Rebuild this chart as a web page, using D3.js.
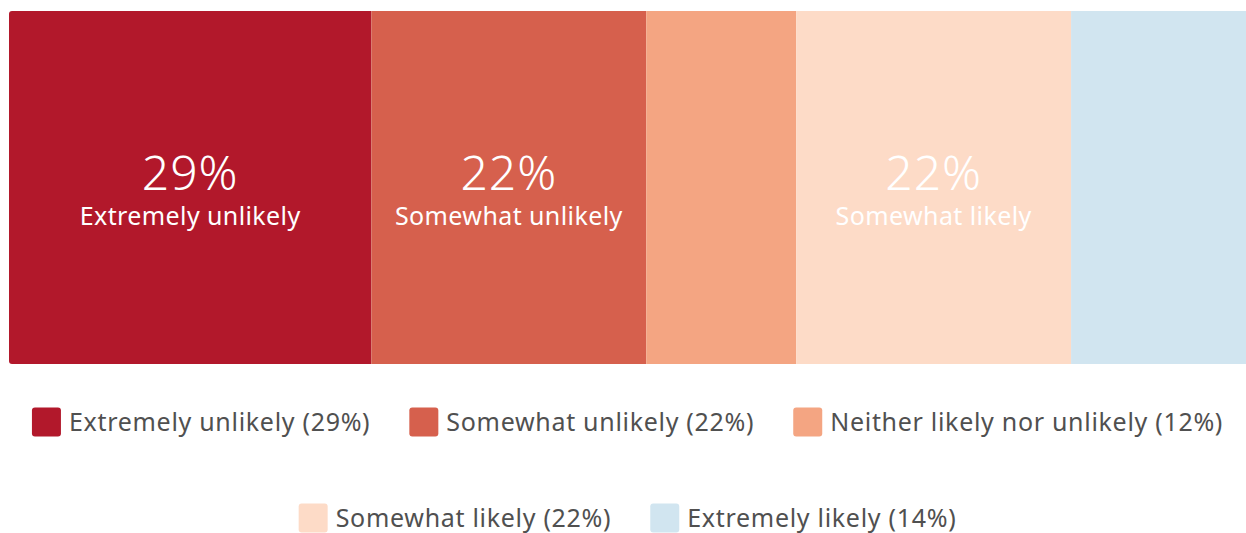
<!DOCTYPE html>
<html>
<head>
<meta charset="utf-8">
<script src="https://cdn.jsdelivr.net/npm/d3@7"></script>
<style>
  html, body { margin: 0; padding: 0; background: #fff; }
  svg { display: block; }
  text { font-family: "Noto Sans", "Open Sans", sans-serif; }
</style>
</head>
<body>
<svg id="chart" width="1246" height="533"></svg>
<script>
// Response shares for a single survey question
const categories = ["Extremely unlikely", "Somewhat unlikely", "Neither likely nor unlikely", "Somewhat likely", "Extremely likely"];
const values = [29, 22, 12, 22, 14];
const colors = ["#b2182b", "#d6604d", "#f4a582", "#fddbc7", "#d1e5f0"];
// Segments narrower than this share get no inline label
const minLabelShare = 20;

const W = 1246, H = 533;
const bar = { left: 9, right: 1246, top: 11, bottom: 364 };

const svg = d3.select("#chart");

const total = d3.sum(values);
const x = d3.scaleLinear().domain([0, total]).range([bar.left, bar.right]);

let acc = 0;
const segs = values.map((v, i) => {
  const s = { cat: categories[i], value: v, color: colors[i], x0: acc, x1: acc + v };
  acc += v;
  return s;
});

// Clip the stacked bar to a softly rounded rectangle
svg.append("defs").append("clipPath").attr("id", "barClip")
  .append("rect")
  .attr("x", bar.left).attr("y", bar.top)
  .attr("width", bar.right - bar.left + 4).attr("height", bar.bottom - bar.top)
  .attr("rx", 3);

const g = svg.append("g").attr("clip-path", "url(#barClip)");
g.selectAll("rect.seg").data(segs).join("rect")
  .attr("class", "seg")
  .attr("x", d => x(d.x0))
  .attr("y", bar.top)
  .attr("width", d => x(d.x1) - x(d.x0))
  .attr("height", bar.bottom - bar.top)
  .attr("fill", d => d.color);

const labelled = segs.filter(d => d.value >= minLabelShare);
const lab = svg.selectAll("g.lab").data(labelled).join("g")
  .attr("class", "lab")
  .attr("transform", d => `translate(${(x(d.x0) + x(d.x1)) / 2},0)`);
lab.append("text")
  .attr("y", 190)
  .attr("text-anchor", "middle")
  .attr("fill", "#fff")
  .attr("font-size", 48)
  .attr("font-weight", 300)
  .attr("letter-spacing", 1)
  .text(d => d.value + "%");
lab.append("text")
  .attr("y", 225)
  .attr("text-anchor", "middle")
  .attr("fill", "#fff")
  .attr("font-size", 25)
  .attr("letter-spacing", 0.4)
  .text(d => d.cat);

// Legend: wrapped rows, each centered under the bar
const legendRows = [[0, 1, 2], [3, 4]];
const rowBaseline = [431, 527];
const rowMid = [422, 518];
const sw = 29, swGap = 8, itemGap = 39;
const center = (bar.left + bar.right) / 2;

legendRows.forEach((row, ri) => {
  const lg = svg.append("g");
  const items = row.map(i => {
    const t = lg.append("text")
      .attr("font-size", 25)
      .attr("letter-spacing", 0.7)
      .attr("fill", "#505050")
      .attr("y", rowBaseline[ri])
      .text(`${categories[i]} (${values[i]}%)`);
    return { i, t, w: t.node().getComputedTextLength() };
  });
  const totalW = d3.sum(items, d => sw + swGap + d.w) + itemGap * (items.length - 1);
  let cx = center - totalW / 2;
  items.forEach(it => {
    lg.append("rect")
      .attr("x", cx).attr("y", rowMid[ri] - sw / 2)
      .attr("width", sw).attr("height", sw)
      .attr("rx", 3)
      .attr("fill", colors[it.i]);
    it.t.attr("x", cx + sw + swGap);
    cx += sw + swGap + it.w + itemGap;
  });
});
</script>
</body>
</html>
